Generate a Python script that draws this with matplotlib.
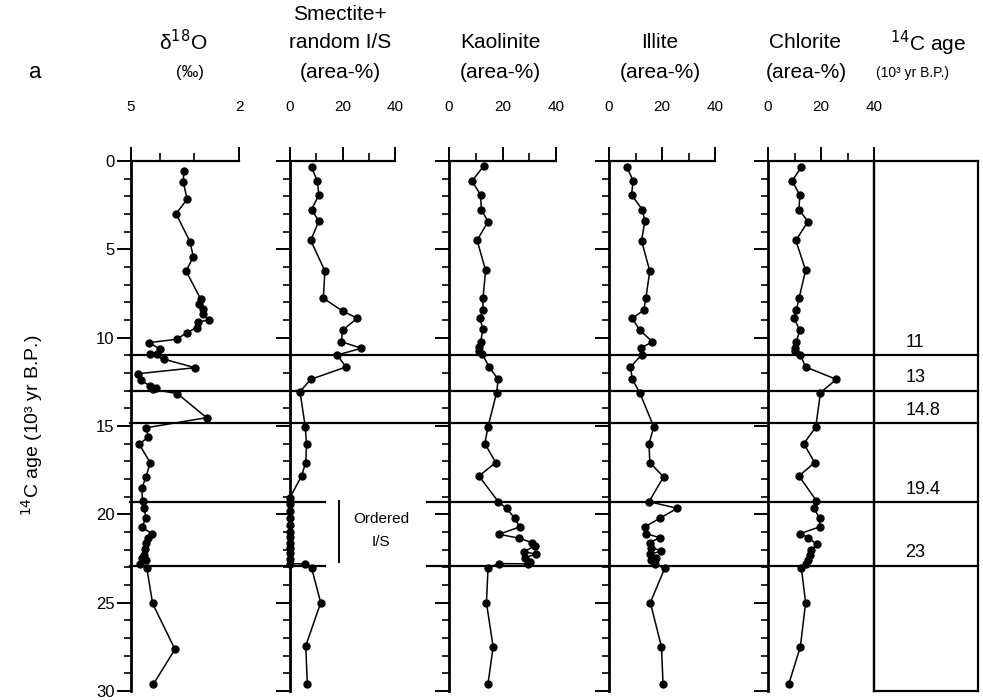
import matplotlib.pyplot as plt
from matplotlib.lines import Line2D
from matplotlib.transforms import blended_transform_factory

# ---- data (age in 10^3 yr B.P.) ----
d18o_age = [0.57, 1.17, 2.17, 2.98, 4.57, 5.43, 6.23, 7.83, 8.11, 8.40, 8.64, 9.00, 9.10,
            9.43, 9.72, 10.09, 10.28, 10.66, 10.90, 10.94, 11.22, 11.70, 12.04, 12.41, 12.73,
            12.83, 12.92, 13.17, 14.53, 15.10, 15.62, 16.03, 17.07, 17.88, 18.52, 19.24,
            19.66, 20.23, 20.71, 21.09, 21.35, 21.65, 21.98, 22.30, 22.49, 22.60, 22.79,
            23.06, 25.04, 27.64, 29.62]
d18o_val = [3.53, 3.55, 3.44, 3.75, 3.36, 3.27, 3.47, 3.06, 3.12, 2.99, 3.01, 2.82, 3.14,
            3.18, 3.45, 3.73, 4.49, 4.19, 4.29, 4.47, 4.08, 3.22, 4.80, 4.73, 4.47,
            4.31, 4.40, 3.71, 2.90, 4.58, 4.52, 4.77, 4.47, 4.58, 4.70, 4.68,
            4.64, 4.58, 4.70, 4.43, 4.52, 4.58, 4.61, 4.64, 4.70, 4.58, 4.74,
            4.56, 4.40, 3.78, 4.38]

smec_age = [0.34, 1.13, 1.92, 2.75, 3.40, 4.49, 6.23, 7.77, 8.49, 8.90, 9.58, 10.23, 10.60,
            10.98, 11.66, 12.36, 13.05, 15.03, 16.00, 17.07, 17.83, 19.05, 19.40, 19.80,
            20.20, 20.60, 21.00, 21.30, 21.60, 21.90, 22.20, 22.50, 22.80, 22.80, 23.02,
            25.00, 27.45, 29.62]
smec_val = [8.2, 10.4, 11.0, 8.2, 11.0, 7.9, 13.3, 12.7, 20.0, 25.6, 20.0, 19.6, 27.2,
            18.0, 21.3, 7.9, 3.8, 5.8, 6.3, 6.0, 4.4, 0.0, 0.0, 0.0,
            0.0, 0.0, 0.0, 0.0, 0.0, 0.0, 0.0, 0.0, 0.0, 5.7, 8.2,
            11.7, 6.0, 6.6]

kaol_age = [0.28, 1.13, 1.92, 2.75, 3.43, 4.49, 6.19, 7.77, 8.45, 8.87, 9.53, 10.23, 10.53,
            10.75, 10.94, 11.66, 12.36, 13.11, 15.03, 16.00, 17.07, 17.83, 19.28, 19.66,
            20.23, 20.71, 21.13, 21.35, 21.60, 21.79, 22.11, 22.26, 22.45, 22.68, 22.80,
            22.79, 23.02, 25.00, 27.50, 29.58]
kaol_val = [13.0, 8.6, 11.8, 12.1, 14.6, 10.5, 13.7, 12.7, 12.7, 11.5, 12.7, 11.8, 11.2,
            11.2, 12.5, 15.0, 18.4, 17.8, 14.6, 13.4, 17.5, 11.2, 18.4, 21.5,
            24.6, 26.5, 18.7, 26.2, 30.9, 32.1, 28.0, 32.5, 28.4, 30.2, 29.6,
            18.7, 14.6, 14.0, 16.5, 14.6]

illi_age = [0.34, 1.13, 1.92, 2.75, 3.40, 4.53, 6.23, 7.77, 8.45, 8.90, 9.58, 10.23, 10.60,
            10.98, 11.66, 12.36, 13.11, 15.05, 16.00, 17.07, 17.88, 19.28, 19.66, 20.23,
            20.71, 21.09, 21.32, 21.60, 21.88, 22.07, 22.26, 22.45, 22.60, 22.80, 23.06,
            25.00, 27.50, 29.62]
illi_val = [6.8, 9.1, 8.5, 12.6, 13.5, 12.3, 15.4, 13.9, 13.1, 8.8, 11.6, 16.4, 11.9,
            12.3, 8.1, 8.8, 11.6, 16.9, 15.1, 15.4, 20.6, 15.1, 25.7, 19.1,
            13.5, 13.9, 19.1, 15.4, 16.0, 19.8, 15.6, 17.8, 16.0, 17.2, 21.0,
            15.6, 19.8, 20.4]

chlo_age = [0.34, 1.13, 1.92, 2.75, 3.43, 4.49, 6.19, 7.77, 8.45, 8.87, 9.58, 10.23, 10.57,
            10.75, 10.98, 11.66, 12.36, 13.11, 15.07, 16.00, 17.07, 17.83, 19.24, 19.62,
            20.23, 20.71, 21.09, 21.32, 21.70, 22.04, 22.30, 22.60, 22.80, 23.06, 25.00,
            27.50, 29.58]
chlo_val = [12.6, 9.1, 12.0, 11.7, 15.1, 10.5, 14.2, 11.7, 10.7, 9.7, 12.0, 10.7, 10.3,
            10.3, 12.2, 14.2, 25.8, 19.8, 18.0, 13.5, 17.6, 11.7, 18.3, 17.2,
            19.5, 19.5, 12.2, 15.1, 18.5, 16.4, 16.0, 15.1, 14.2, 12.6, 14.2,
            12.2, 7.9]

# 14C age boundaries and their labels
bound_age = [11.0, 13.0, 14.85, 19.3, 22.9]
bound_lab = ['11', '13', '14.8', '19.4', '23']

narrow = ['Liberation Sans Narrow', 'Liberation Sans', 'DejaVu Sans']
plt.rcParams['font.family'] = narrow

W, H = 983, 700
fig = plt.figure(figsize=(W / 100, H / 100), dpi=100)

def px_axes(x0, x1, y0=161, y1=691):
    return fig.add_axes([x0 / W, 1 - y1 / H, (x1 - x0) / W, (y1 - y0) / H])

def style(ax, left_labels=False):
    ax.set_ylim(30, 0)
    for s in ['right', 'bottom']:
        ax.spines[s].set_visible(False)
    ax.spines['left'].set_linewidth(2.0)
    ax.spines['top'].set_linewidth(1.6)
    ax.xaxis.tick_top()
    ax.set_yticks(range(0, 31, 5))
    ax.set_yticks(range(0, 31), minor=True)
    ax.tick_params(axis='y', which='major', length=10, width=1.4, direction='out',
                   labelsize=12, pad=2, labelleft=left_labels)
    ax.tick_params(axis='y', which='minor', length=5, width=1.2, direction='out')
    ax.tick_params(axis='x', which='major', length=10, width=1.4, direction='out',
                   labelsize=11, pad=24)
    ax.tick_params(axis='x', which='minor', length=6, width=1.2, direction='out')
    ax.set_facecolor('none')

def series(ax, x, y):
    ax.plot(x, y, color='k', lw=1.1, marker='o', ms=5, mfc='k', mec='k', clip_on=False)

# delta 18O panel
ax1 = px_axes(131, 239)
style(ax1, left_labels=True)
ax1.set_xlim(5, 2)
ax1.set_xticks([5, 2])
ax1.set_xticklabels(['5', '2'])
ax1.set_xticks([4.2, 3.25], minor=True)
series(ax1, d18o_val, d18o_age)

panels = []
for (x0, x1), xs, ys in [((290, 395), smec_val, smec_age),
                         ((449, 556), kaol_val, kaol_age),
                         ((609, 715), illi_val, illi_age),
                         ((768, 874), chlo_val, chlo_age)]:
    ax = px_axes(x0, x1)
    style(ax)
    ax.set_xlim(0, 40)
    ax.set_xticks([0, 20, 40])
    ax.set_xticks([10, 30], minor=True)
    series(ax, xs, ys)
    panels.append(ax)

# chlorite right edge + 14C age box
panels[-1].spines['right'].set_visible(True)
panels[-1].spines['right'].set_linewidth(1.6)
axb = px_axes(874, 978)
axb.set_ylim(30, 0)
axb.set_xlim(0, 1)
axb.set_xticks([])
axb.set_yticks([])
for s in axb.spines.values():
    s.set_linewidth(1.6)
axb.set_facecolor('none')
for a, lab in zip(bound_age, bound_lab):
    axb.text(0.3, a - 0.25, lab, fontsize=13, ha='left', va='bottom',
             family=['Liberation Sans', 'DejaVu Sans'])

# boundary lines across all panels
tr = blended_transform_factory(fig.transFigure, ax1.transData)
for a in bound_age:
    if a > 19:
        segs = [(130, 325), (427, 978)]
    else:
        segs = [(130, 978)]
    for x0, x1 in segs:
        fig.add_artist(Line2D([x0 / W, x1 / W], [a, a], transform=tr, color='k', lw=1.6))

# ordered I/S bracket
tr2 = blended_transform_factory(fig.transFigure, ax1.transData)
fig.add_artist(Line2D([339 / W, 339 / W], [19.25, 22.7], transform=tr2, color='k', lw=1.4))
fig.text(381 / W, 1 - 519 / H, 'Ordered', ha='center', va='center', fontsize=11)
fig.text(381 / W, 1 - 542 / H, 'I/S', ha='center', va='center', fontsize=11)

# headers
hs = 15
fig.text(35 / W, 1 - 73 / H, 'a', ha='center', va='center', fontsize=16)
fig.text(183 / W, 1 - 42 / H, 'δ$^{18}$O', ha='center', va='center', fontsize=hs)
fig.text(190 / W, 1 - 72 / H, '(‰)', ha='center', va='center', fontsize=12)
fig.text(340 / W, 1 - 14 / H, 'Smectite+', ha='center', va='center', fontsize=hs)
fig.text(340 / W, 1 - 43 / H, 'random I/S', ha='center', va='center', fontsize=hs)
fig.text(340 / W, 1 - 73 / H, '(area-%)', ha='center', va='center', fontsize=hs)
fig.text(500 / W, 1 - 43 / H, 'Kaolinite', ha='center', va='center', fontsize=hs)
fig.text(500 / W, 1 - 73 / H, '(area-%)', ha='center', va='center', fontsize=hs)
fig.text(660 / W, 1 - 43 / H, 'Illite', ha='center', va='center', fontsize=hs)
fig.text(660 / W, 1 - 73 / H, '(area-%)', ha='center', va='center', fontsize=hs)
fig.text(805 / W, 1 - 43 / H, 'Chlorite', ha='center', va='center', fontsize=hs)
fig.text(806 / W, 1 - 73 / H, '(area-%)', ha='center', va='center', fontsize=hs)
fig.text(928 / W, 1 - 43 / H, '$^{14}$C age', ha='center', va='center', fontsize=hs)
fig.text(913 / W, 1 - 73 / H, '(10³ yr B.P.)', ha='center', va='center', fontsize=10)
fig.text(32 / W, 1 - 425 / H, '$^{14}$C age (10³ yr B.P.)', ha='center', va='center',
         rotation=90, fontsize=14)

fig.savefig('out.png', dpi=100)
